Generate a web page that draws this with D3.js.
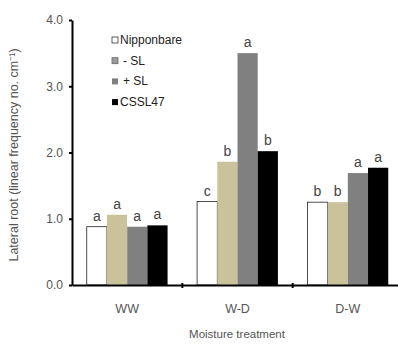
<!DOCTYPE html>
<html>
<head>
<meta charset="utf-8">
<script src="https://cdn.jsdelivr.net/npm/d3@7"></script>
<style>
  body { margin: 0; background: #fff; }
  svg { display: block; font-family: "Liberation Sans", Arial, sans-serif; }
</style>
</head>
<body>
<svg id="chart" width="398" height="346"></svg>
<script>
// data
const treatments = ["WW", "W-D", "D-W"];
const series = ["Nipponbare", "- SL", "+ SL", "CSSL47"];
const nipponbare = [0.88, 1.26, 1.25];
const minusSL = [1.06, 1.86, 1.25];
const plusSL = [0.88, 3.50, 1.69];
const cssl47 = [0.90, 2.02, 1.77];
const letters = [
    ["a", "a", "a", "a"],
    ["c", "b", "a", "b"],
    ["b", "b", "a", "a"]
];
const yTicks = [0, 1, 2, 3, 4];

const colors = ["#ffffff", "#c9c29a", "#808080", "#000000"];
const values = [nipponbare, minusSL, plusSL, cssl47];

const svg = d3.select("#chart");
const margin = {left: 72, top: 20, bottom: 285};

const y = d3.scaleLinear().domain([0, 4]).range([margin.bottom, margin.top]);
const x0 = d3.scaleBand().domain(treatments).range([72, 403]).padding(0);
const x1 = d3.scaleBand().domain(series).range([0, x0.bandwidth()])
    .paddingInner(0).paddingOuter(0.73);

// bars
const groups = svg.append("g").selectAll("g")
    .data(treatments)
    .join("g")
    .attr("transform", d => `translate(${x0(d)},0)`);

groups.selectAll("rect")
    .data((t, i) => series.map((s, j) => ({s, j, v: values[j][i], l: letters[i][j]})))
    .join("rect")
    .attr("x", d => x1(d.s))
    .attr("y", d => y(d.v))
    .attr("width", x1.bandwidth())
    .attr("height", d => y(0) - y(d.v))
    .attr("fill", d => colors[d.j])
    .attr("stroke", d => d.j == 0 ? "#222" : "none")
    .attr("stroke-width", 0.8);

groups.selectAll("text")
    .data((t, i) => series.map((s, j) => ({s, v: values[j][i], l: letters[i][j]})))
    .join("text")
    .attr("x", d => x1(d.s) + x1.bandwidth() / 2)
    .attr("y", d => y(d.v) - 6)
    .attr("text-anchor", "middle")
    .attr("font-size", 14)
    .attr("fill", "#444")
    .text(d => d.l);

// y axis
const yAxis = svg.append("g")
    .attr("transform", `translate(${margin.left},0)`)
    .call(d3.axisLeft(y).tickValues(yTicks).tickFormat(d3.format(".1f")).tickSize(3).tickSizeOuter(0));
yAxis.select(".domain").attr("stroke", "#000").attr("stroke-width", 2);
yAxis.selectAll(".tick line").attr("stroke-width", 2);
yAxis.selectAll(".tick text").attr("font-size", 12).attr("fill", "#555").attr("dx", -3)
    .attr("font-family", "Liberation Sans, Arial, sans-serif");

// x axis
const xAxis = svg.append("g")
    .attr("transform", `translate(0,${margin.bottom})`)
    .call(d3.axisBottom(x0).tickSize(0).tickPadding(19));
xAxis.select(".domain").attr("stroke", "#000").attr("stroke-width", 2);
xAxis.selectAll(".tick text").attr("font-size", 12.5).attr("fill", "#555")
    .attr("font-family", "Liberation Sans, Arial, sans-serif");

// small ticks between groups
svg.append("g").selectAll("line")
    .data(treatments.slice(1))
    .join("line")
    .attr("x1", d => x0(d)).attr("x2", d => x0(d))
    .attr("y1", margin.bottom - 2).attr("y2", margin.bottom + 3)
    .attr("stroke", "#000").attr("stroke-width", 2);

// axis titles
svg.append("text")
    .attr("x", 237).attr("y", 338)
    .attr("text-anchor", "middle")
    .attr("font-size", 11.5)
    .attr("fill", "#555")
    .text("Moisture treatment");

svg.append("text")
    .attr("transform", "translate(18,155) rotate(-90)")
    .attr("text-anchor", "middle")
    .attr("font-size", 12.5)
    .attr("fill", "#555")
    .text("Lateral root (linear frequency no. cm\u207B\u00B9)");

// legend
const legend = svg.append("g").attr("transform", "translate(112,44)");
const rows = legend.selectAll("g")
    .data(series)
    .join("g")
    .attr("transform", (d, i) => `translate(0,${i * 20.7})`);
rows.append("rect")
    .attr("x", 0).attr("y", -7)
    .attr("width", 6).attr("height", 6)
    .attr("fill", (d, i) => i == 1 ? "#9a9a9a" : (i == 2 ? "#808080" : colors[i]))
    .attr("stroke", (d, i) => i == 0 ? "#333" : (i == 1 ? "#666" : "none"))
    .attr("stroke-width", 0.8);
rows.append("text")
    .attr("x", (d, i) => i == 0 || i == 3 ? 8 : 11)
    .attr("y", 0)
    .attr("font-size", 12)
    .attr("fill", "#222")
    .text(d => d);
</script>
</body>
</html>
